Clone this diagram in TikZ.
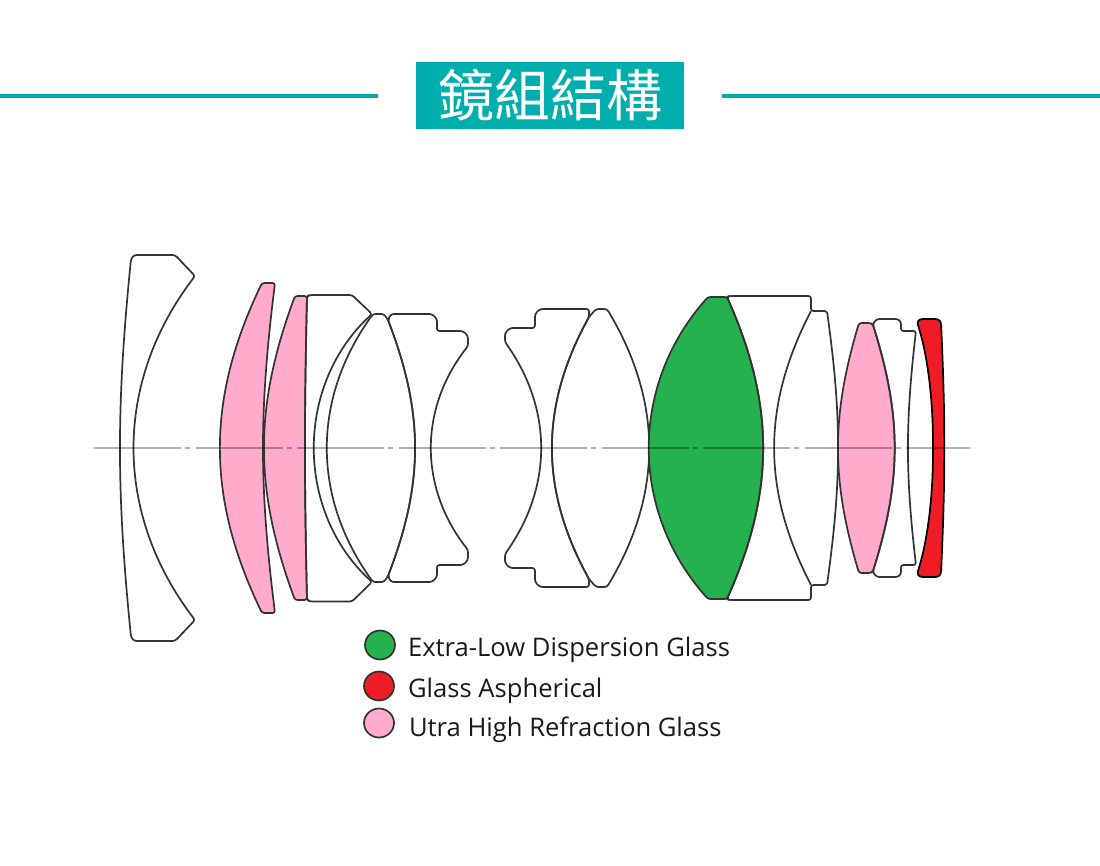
\documentclass[tikz,border=0pt]{standalone}
\usepackage{fontspec}
\setmainfont{Open Sans}
\newfontfamily\cjk{Noto Sans CJK TC}
\usetikzlibrary{positioning,shapes.geometric}
\definecolor{teal1}{HTML}{00AEAE}
\definecolor{pink1}{HTML}{FFABC9}
\definecolor{green1}{HTML}{25B14D}
\definecolor{red1}{HTML}{EE1C25}
\tikzset{
	lens/.style={draw=black!80, line width=1.7pt, rounded corners=2.5pt, line join=round},
	legdot/.style={draw=black!80, line width=1.7pt, ellipse, minimum width=30pt, minimum height=29pt, inner sep=0pt},
	legtxt/.style={inner sep=0pt, font=\fontsize{25.6pt}{27pt}\selectfont, text=black!90, text height=18pt, text depth=5pt}
}
\begin{document}
\begin{tikzpicture}[x=1pt,y=-1pt]
		\useasboundingbox (0,0) rectangle (1100,865);
		
		\node (title) [fill=teal1, text=white, minimum width=268pt, minimum height=67pt, inner sep=0pt, font=\cjk\fontsize{56pt}{60pt}\selectfont] at (550,95.5) {鏡組結構};
		\coordinate (ruleL) at (0,96);
		\coordinate (ruleLe) at (378,96);
		\coordinate (ruleR) at (722,96);
		\coordinate (ruleRe) at (1100,96);
		\draw [teal1, line width=4pt] (ruleL) -- (ruleLe);
		\draw [teal1, line width=4pt] (ruleR) -- (ruleRe);
		
		\draw [lens] (150,255) -- (175,255) -- (195,276) to[bend right=37.4] (195,620) -- (175,641) -- (134,641) -- (131,637) to[bend left=5.7] (131,259) -- (134,255) -- cycle;
		\draw [lens, fill=pink1] (268,283) -- (275,283) to[bend right=7.1] (275,613) -- (262,613) to[bend left=25.7] (262,283) -- cycle;
		\draw [lens, fill=pink1] (301,296) -- (307,296) to[bend right=1.3] (307,600) -- (295,600) to[bend left=20.3] (295,296) -- cycle;
		\draw [lens] (330,295) -- (352,295) -- (372,314) to[bend right=47.5] (372,582) -- (352,601.5) -- (310,601.5) -- (307,600) to[bend left=1.3] (307,296) -- (310,295) -- cycle;
		\draw [lens] (378,314) -- (384,314) -- (388,320) to[bend left=21] (388,576) -- (384,582) -- (373,582) to[bend left=35.8] (373,314) -- cycle;
		\draw [lens] (410,314) -- (432,314) -- (437,319) -- (437,331) -- (463,331) -- (468,336) -- (468,346) to[bend right=38.1] (468,550) -- (468,560) -- (463,565) -- (437,565) -- (437,577) -- (432,582) -- (391,582) -- (388,576) to[bend right=21] (388,320) -- (391,314) -- cycle;
		
		\draw [lens] (510,328) -- (535,328) -- (535,314) -- (540,309) -- (589,309) -- (589,317) to[bend right=28.7] (589,579) -- (589,587) -- (540,587) -- (535,582) -- (535,568) -- (510,568) -- (505,563) -- (505,554) to[bend right=35.3] (505,342) -- (505,333) -- cycle;
		\draw [lens] (601,309) -- (607,309) to[bend left=31] (607,587) -- (596,587) -- (589,579) to[bend left=28.7] (589,317) -- (596,309) -- cycle;
		\draw [lens, fill=green1] (717,297) -- (727,297) to[bend left=24] (727,599) -- (708,599) to[bend left=41.8] (708,297) -- cycle;
		\draw [lens] (770,296) -- (811,296) -- (811,311) -- (827,311) to[bend left=7.9] (827,585) -- (811,585) -- (811,600) -- (729,600) -- (727,599) to[bend right=24] (727,297) -- (729,296) -- cycle;
		\draw [lens] (811,311) to[bend right=27.4] (811,585);
		\draw [lens, fill=pink1] (866,323) -- (871,323) -- (873,325) to[bend left=17.4] (873,571) -- (871,573) -- (859,573) to[bend left=16.6] (859,323) -- cycle;
		\draw [lens] (877,319) -- (898,319) -- (901,322) -- (901,331) -- (916,331) to[bend right=6.7] (916,565) -- (901,565) -- (901,574) -- (898,577) -- (877,577) -- (874,574) -- (873,571) to[bend right=17.4] (873,325) -- (874,322) -- cycle;
		\draw [lens, draw=black, fill=red1] (920,319) -- (938,319) -- (941,322) to[bend left=2.6] (941,574) -- (938,577) -- (920,577) -- (917,574) .. controls (928,540) and (933,496) .. (933,448) .. controls (933,400) and (928,356) .. (917,322) -- cycle;
		
		\coordinate (axisL) at (94,448);
		\coordinate (axisR) at (970,448);
		\draw [black, opacity=0.3, line width=1.6pt, dash pattern=on 87pt off 4pt on 5pt off 5.5pt] (axisL) -- (axisR);
		
		\node (dotEd) [legdot, fill=green1] at (380,645) {};
		\node (dotAs) [legdot, fill=red1] at (379,686) {};
		\node (dotUh) [legdot, fill=pink1] at (379,723) {};
		\node (txtEd) [legtxt, right=12pt of dotEd, yshift=-4.5pt] {Extra-Low Dispersion Glass};
		\node (txtAs) [legtxt, right=13pt of dotAs, yshift=-4.5pt] {Glass Aspherical};
		\node (txtUh) [legtxt, right=14pt of dotUh, yshift=-6.5pt] {Utra High Refraction Glass};
		\end{tikzpicture}
\end{document}
